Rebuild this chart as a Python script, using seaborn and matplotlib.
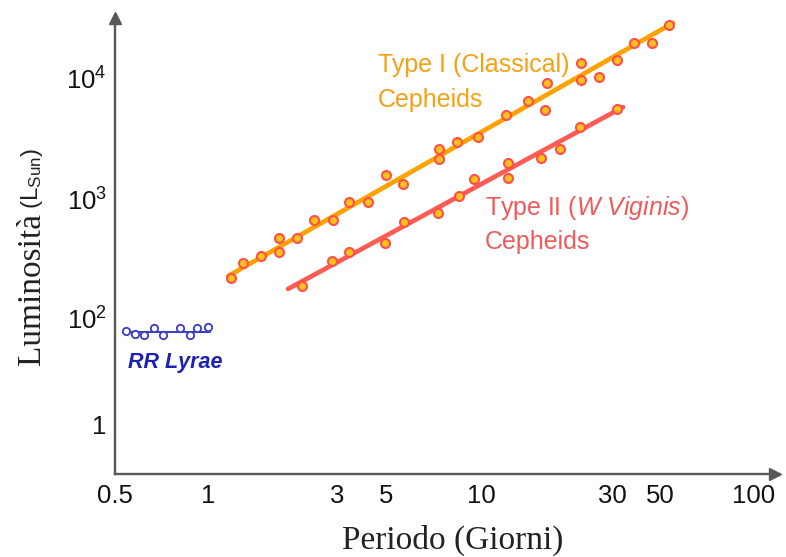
import numpy as np
import matplotlib
matplotlib.use("Agg")
import matplotlib.pyplot as plt
import seaborn as sns

# ---------------- data ----------------
type1_period = [1.22, 1.35, 1.57, 1.83, 1.83, 2.14, 2.47, 2.90, 3.40, 4.15, 5.01, 5.67, 7.35, 7.35,
                8.37, 9.74, 12.3, 14.8, 17.0, 17.3, 23.1, 23.1, 26.9, 31.6, 37.8, 45.6, 53.2]
type1_lum = [220, 293, 335, 473, 362, 473, 668, 668, 944, 944, 1578, 1330, 2590, 2140,
             2960, 3250, 4940, 6450, 5450, 9100, 13300, 9620, 10200, 14100, 19400, 19400, 27400]
type1_fit_period = [1.19, 54.8]
type1_fit_lum = [228, 28500]

type2_period = [2.23, 2.87, 3.40, 4.96, 5.71, 7.29, 8.49, 9.46, 12.5, 12.5, 16.5, 19.3, 22.9, 31.6]
type2_lum = [188, 304, 362, 430, 643, 764, 1060, 1460, 1980, 1490, 2180, 2590, 3940, 5550]
type2_fit_period = [1.98, 33.7]
type2_fit_lum = [178, 5750]

rr_period = [0.543, 0.581, 0.621, 0.669, 0.716, 0.813, 0.876, 0.923, 1.00]
rr_lum = [59.1, 51.8, 49.6, 67.4, 49.6, 67.4, 49.6, 67.4, 70.4]
rr_line_period = [0.531, 1.02]
rr_line_lum = [56.5, 56.5]

x_ticks = [0.5, 1, 3, 5, 10, 30, 50, 100]
x_tick_labels = ["0.5", "1", "3", "5", "10", "30", "50", "100"]
y_ticks = [1, 100, 1000, 10000]
y_tick_labels = ["1", "$10^2$", "$10^3$", "$10^4$"]

# ---------------- hand-drawn (irregular) axis scales ----------------
X_LOG_KNOTS = np.array([-3, np.log10(0.5), 0, np.log10(3), np.log10(5), 1, np.log10(30), np.log10(50), 2, 5])
X_POS_KNOTS = np.array([-716, 115, 207.7, 337, 385.7, 481.7, 612, 660.7, 754, 1684])
Y_LOG_KNOTS = np.array([-3, 0, 2, 3, 4, 7])
Y_POS_KNOTS = np.array([-581.5, -424, -319, -199, -78, 285])


def fx(v):
    v = np.maximum(np.asarray(v, dtype=float), 1e-300)
    return np.interp(np.log10(v), X_LOG_KNOTS, X_POS_KNOTS)


def ix(p):
    return 10 ** np.interp(np.asarray(p, dtype=float), X_POS_KNOTS, X_LOG_KNOTS)


def fy(v):
    v = np.maximum(np.asarray(v, dtype=float), 1e-300)
    return np.interp(np.log10(v), Y_LOG_KNOTS, Y_POS_KNOTS)


def iy(p):
    return 10 ** np.interp(np.asarray(p, dtype=float), Y_POS_KNOTS, Y_LOG_KNOTS)


# ---------------- styling ----------------
sns.set_style("white")
plt.rcParams["font.family"] = ["Liberation Sans", "DejaVu Sans"]
plt.rcParams["mathtext.fontset"] = "custom"
plt.rcParams["mathtext.rm"] = "Liberation Sans"
plt.rcParams["mathtext.it"] = "Liberation Sans:italic"
plt.rcParams["mathtext.sf"] = "Liberation Sans"
plt.rcParams["mathtext.default"] = "regular"

W, H = 786, 557
fig = plt.figure(figsize=(W / 100, H / 100), dpi=100)
ax_left, ax_right, ax_bottom, ax_top = 115, 775, 474, 18
ax = fig.add_axes([ax_left / W, 1 - ax_bottom / H, (ax_right - ax_left) / W, (ax_bottom - ax_top) / H])

ORANGE_LINE = "#FFA200"
ORANGE_TEXT = "#F5A114"
RED_LINE = "#FF5B55"
RED_TEXT = "#EF5A5A"
DOT_FILL = "#FFC21A"
DOT_EDGE = "#FF5048"
BLUE = "#1E22B0"
BLUE_MK = "#3A3CC4"
AXIS_C = "#585858"

# lines
sns.lineplot(x=type1_fit_period, y=type1_fit_lum, color=ORANGE_LINE, linewidth=3.4,
             estimator=None, ax=ax, zorder=2)
sns.lineplot(x=type2_fit_period, y=type2_fit_lum, color=RED_LINE, linewidth=3.4,
             estimator=None, ax=ax, zorder=2)
sns.lineplot(x=rr_line_period, y=rr_line_lum, color=BLUE_MK, linewidth=1.4,
             estimator=None, ax=ax, zorder=2)

# points
sns.scatterplot(x=type1_period, y=type1_lum, s=42, color=DOT_FILL, edgecolor=DOT_EDGE,
                linewidth=1.5, ax=ax, zorder=3)
sns.scatterplot(x=type2_period, y=type2_lum, s=42, color=DOT_FILL, edgecolor=DOT_EDGE,
                linewidth=1.5, ax=ax, zorder=3)
sns.scatterplot(x=rr_period, y=rr_lum, s=28, color="white", edgecolor=BLUE_MK,
                linewidth=1.3, ax=ax, zorder=3)

ax.set_xscale("function", functions=(fx, ix))
ax.set_yscale("function", functions=(fy, iy))
ax.set_xlim(0.5, float(ix(ax_right)))
ax.set_ylim(float(iy(-ax_bottom)), float(iy(-ax_top)))

ax.set_xticks(x_ticks)
ax.set_xticklabels(x_tick_labels)
ax.set_yticks(y_ticks)
ax.set_yticklabels(y_tick_labels)
ax.minorticks_off()
ax.tick_params(axis="both", which="major", direction="in", length=8, width=1.3,
               colors=AXIS_C, labelcolor="#111111", labelsize=18.5)
ax.tick_params(axis="x", pad=7)
ax.tick_params(axis="y", pad=6)

for s in ["top", "right"]:
    ax.spines[s].set_visible(False)
for s in ["left", "bottom"]:
    ax.spines[s].set_color(AXIS_C)
    ax.spines[s].set_linewidth(1.7)
ax.set_xlabel("")
ax.set_ylabel("")

# arrow heads
ax.plot([1], [0], marker=">", ms=8, color=AXIS_C, transform=ax.transAxes, clip_on=False)
ax.plot([0], [1], marker="^", ms=8, color=AXIS_C, transform=ax.transAxes, clip_on=False)


def fp(x, y):
    return x / W, 1 - y / H


# annotations
fig.text(*fp(378, 72), "Type I (Classical)", color=ORANGE_TEXT, fontsize=18,
         ha="left", va="baseline")
fig.text(*fp(378, 107), "Cepheids", color=ORANGE_TEXT, fontsize=18, ha="left", va="baseline")
fig.text(*fp(485, 215), r"Type II ($\mathit{W\ Viginis}$)", color=RED_TEXT, fontsize=18,
         ha="left", va="baseline")
fig.text(*fp(485, 249), "Cepheids", color=RED_TEXT, fontsize=18, ha="left", va="baseline")
fig.text(*fp(128, 368), "RR Lyrae", color=BLUE, fontsize=15.5, fontweight="bold",
         fontstyle="italic", ha="left", va="baseline")

# axis titles
fig.text(*fp(453, 549), "Periodo (Giorni)", family=["Liberation Serif", "DejaVu Serif"],
         fontsize=24, ha="center", va="baseline", color="#222222")
t1 = fig.text(*fp(40, 365), "Luminosità", family=["Liberation Serif", "DejaVu Serif"],
              fontsize=24, rotation=90, rotation_mode="anchor", ha="left", va="baseline",
              color="#222222")
fig.canvas.draw()
bb = t1.get_window_extent()
top_px = H - bb.y1  # from top
fig.text(*fp(38, top_px - 4), "(L$_{Sun}$)", fontsize=17.5, rotation=90,
         rotation_mode="anchor", ha="left", va="baseline", color="#222222")

fig.savefig("out.png", dpi=100)
